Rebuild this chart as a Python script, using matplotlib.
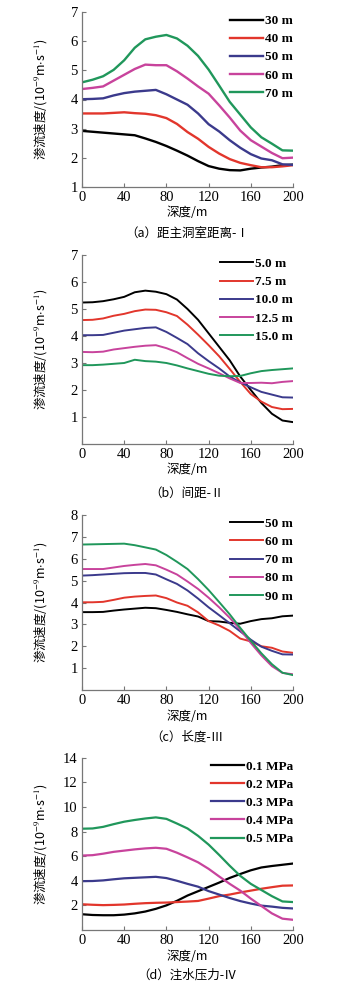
import matplotlib
matplotlib.use("Agg")
import matplotlib.pyplot as plt

plt.rcParams["font.family"] = ["Liberation Serif", "Noto Sans CJK SC"]
plt.rcParams["mathtext.fontset"] = "stix"

W, H = 352, 991  # размер картинки в пикселях

# Глубина, м (общая сетка для всех кривых)
depth = [0, 10, 20, 30, 40, 50, 60, 70, 80, 90, 100,
         110, 120, 130, 140, 150, 160, 170, 180, 190, 200]

# (a) расстояние до главной камеры
a_labels = ["30 m", "40 m", "50 m", "60 m", "70 m"]
a_30 = [2.92, 2.89, 2.86, 2.83, 2.80, 2.77, 2.66, 2.54, 2.40, 2.24, 2.07,
        1.88, 1.71, 1.62, 1.57, 1.56, 1.62, 1.66, 1.69, 1.74, 1.76]
a_40 = [3.52, 3.52, 3.52, 3.54, 3.56, 3.53, 3.51, 3.46, 3.36, 3.16, 2.88,
        2.65, 2.37, 2.14, 1.95, 1.82, 1.74, 1.67, 1.67, 1.70, 1.74]
a_50 = [4.01, 4.02, 4.04, 4.14, 4.22, 4.27, 4.30, 4.33, 4.18, 4.00, 3.82,
        3.52, 3.15, 2.90, 2.60, 2.34, 2.12, 1.97, 1.91, 1.77, 1.75]
a_60 = [4.36, 4.40, 4.45, 4.65, 4.85, 5.05, 5.20, 5.18, 5.18, 4.97, 4.72,
        4.45, 4.20, 3.80, 3.38, 2.93, 2.60, 2.38, 2.16, 1.98, 2.00]
a_70 = [4.59, 4.68, 4.80, 5.02, 5.35, 5.78, 6.07, 6.16, 6.22, 6.10, 5.85,
        5.50, 5.03, 4.48, 3.92, 3.48, 3.04, 2.70, 2.48, 2.25, 2.24]

# (b) шаг
b_labels = ["5.0 m", "7.5 m", "10.0 m", "12.5 m", "15.0 m"]
b_50 = [5.24, 5.25, 5.29, 5.36, 5.45, 5.62, 5.68, 5.64, 5.55, 5.35, 5.00,
        4.60, 4.10, 3.60, 3.10, 2.50, 2.00, 1.52, 1.12, 0.87, 0.81]
b_75 = [4.59, 4.60, 4.65, 4.75, 4.82, 4.92, 4.98, 4.97, 4.88, 4.74, 4.42,
        4.05, 3.66, 3.25, 2.78, 2.30, 1.85, 1.57, 1.37, 1.29, 1.30]
b_100 = [4.03, 4.03, 4.04, 4.12, 4.20, 4.25, 4.30, 4.32, 4.15, 3.93, 3.70,
         3.36, 3.07, 2.80, 2.50, 2.28, 2.10, 1.93, 1.83, 1.73, 1.72]
b_125 = [3.41, 3.40, 3.42, 3.50, 3.55, 3.60, 3.64, 3.66, 3.55, 3.40, 3.18,
         2.97, 2.80, 2.62, 2.43, 2.26, 2.26, 2.27, 2.25, 2.30, 2.33]
b_150 = [2.92, 2.92, 2.94, 2.97, 3.00, 3.12, 3.07, 3.05, 3.00, 2.91, 2.80,
         2.70, 2.60, 2.53, 2.51, 2.52, 2.62, 2.70, 2.74, 2.77, 2.80]

# (c) длина
c_labels = ["50 m", "60 m", "70 m", "80 m", "90 m"]
c_50 = [3.56, 3.56, 3.57, 3.63, 3.68, 3.72, 3.76, 3.74, 3.66, 3.57, 3.46,
        3.36, 3.15, 3.13, 3.07, 3.03, 3.15, 3.24, 3.28, 3.37, 3.40]
c_60 = [4.01, 4.01, 4.03, 4.12, 4.22, 4.27, 4.30, 4.32, 4.20, 4.00, 3.85,
        3.55, 3.15, 2.95, 2.70, 2.35, 2.22, 2.00, 1.93, 1.76, 1.70]
c_70 = [5.23, 5.25, 5.28, 5.31, 5.34, 5.35, 5.35, 5.28, 5.06, 4.85, 4.55,
        4.18, 3.78, 3.42, 3.05, 2.68, 2.30, 1.98, 1.79, 1.63, 1.62]
c_80 = [5.53, 5.53, 5.53, 5.60, 5.67, 5.72, 5.76, 5.70, 5.50, 5.28, 4.96,
        4.62, 4.22, 3.78, 3.30, 2.76, 2.15, 1.58, 1.09, 0.78, 0.72]
c_90 = [6.65, 6.66, 6.67, 6.68, 6.69, 6.62, 6.52, 6.42, 6.17, 5.86, 5.53,
        5.07, 4.57, 4.02, 3.46, 2.84, 2.25, 1.68, 1.18, 0.79, 0.68]

# (d) давление нагнетания
d_labels = ["0.1 MPa", "0.2 MPa", "0.3 MPa", "0.4 MPa", "0.5 MPa"]
d_01 = [1.28, 1.22, 1.20, 1.20, 1.25, 1.35, 1.50, 1.72, 2.00, 2.37, 2.80,
        3.15, 3.50, 3.85, 4.23, 4.55, 4.85, 5.08, 5.20, 5.30, 5.40]
d_02 = [2.09, 2.05, 2.02, 2.04, 2.07, 2.13, 2.18, 2.21, 2.23, 2.27, 2.31,
        2.36, 2.55, 2.75, 2.88, 3.05, 3.20, 3.35, 3.48, 3.60, 3.62]
d_03 = [3.97, 3.98, 4.03, 4.12, 4.20, 4.24, 4.28, 4.32, 4.22, 4.00, 3.75,
        3.52, 3.16, 2.88, 2.60, 2.35, 2.15, 1.98, 1.90, 1.80, 1.75]
d_04 = [6.05, 6.08, 6.20, 6.35, 6.45, 6.55, 6.63, 6.68, 6.60, 6.28, 5.90,
        5.50, 4.97, 4.35, 3.75, 3.20, 2.55, 1.95, 1.35, 0.92, 0.83]
d_05 = [8.23, 8.25, 8.38, 8.60, 8.80, 8.94, 9.06, 9.15, 9.03, 8.65, 8.25,
        7.65, 6.94, 6.10, 5.22, 4.40, 3.75, 3.25, 2.75, 2.32, 2.27]

colors = ["#000000", "#e2362c", "#3b3a8c", "#c8439c", "#20975b"]
xticks = [0, 40, 80, 120, 160, 200]

YLABEL = "渗流速度/(10$^{-9}$m$\\cdot$s$^{-1}$)"
XLABEL = "深度/m"
CJK = ["Noto Sans CJK SC", "DejaVu Sans"]

# (серии, подписи, ylim, yticks, пиксели осей l,t,r,b, подпись, y подписи, толщина)
panels = [
    ([a_30, a_40, a_50, a_60, a_70], a_labels, (1, 7), range(1, 8),
     (82, 12.3, 293, 186.7), "（a）距主洞室距离-Ⅰ", 233, 1.7),
    ([b_50, b_75, b_100, b_125, b_150], b_labels, (0, 7), range(1, 8),
     (82, 255, 293, 444), "（b）间距-Ⅱ", 493, 1.4),
    ([c_50, c_60, c_70, c_80, c_90], c_labels, (0, 8), range(1, 9),
     (82, 515, 293, 690), "（c）长度-Ⅲ", 737, 1.4),
    ([d_01, d_02, d_03, d_04, d_05], d_labels, (0, 14), range(2, 15, 2),
     (82, 757.7, 293, 930), "（d）注水压力-Ⅳ", 975, 1.6),
]

fig = plt.figure(figsize=(W / 100, H / 100), dpi=100)

for series, labels, ylim, yticks, (l, t, r, b), caption, cap_y, lw in panels:
    ax = fig.add_axes([l / W, 1 - b / H, (r - l) / W, (b - t) / H])
    for vals, lab, col in zip(series, labels, colors):
        ax.plot(depth, vals, color=col, lw=lw, label=lab)
    ax.set_xlim(0, 200)
    ax.set_ylim(*ylim)
    ax.set_xticks(xticks)
    ax.set_yticks(list(yticks))
    for side in ["top", "right"]:
        ax.spines[side].set_visible(False)
    for side in ["left", "bottom"]:
        ax.spines[side].set_color("#777777")
        ax.spines[side].set_linewidth(0.9)
    ax.tick_params(direction="in", length=3, width=0.8, color="#777777",
                   labelsize=10.5, pad=3)
    ax.set_ylabel(YLABEL, family=CJK, fontsize=9)
    ax.yaxis.set_label_coords(-0.15, 0.5)
    ax.legend(loc="upper right", bbox_to_anchor=(1.0, 0.985),
              frameon=False, handlelength=2.5, handletextpad=0.15,
              labelspacing=0.45, borderaxespad=0.0, borderpad=0.0,
              prop={"family": "Liberation Serif", "size": 9.5,
                    "weight": "bold"})
    # подписи оси X и самой панели
    fig.text(187 / W, 1 - (b + 26) / H, XLABEL, family=CJK, fontsize=9,
             ha="center", va="center")
    fig.text(187 / W, 1 - cap_y / H, caption, family=CJK, fontsize=9,
             ha="center", va="center")

fig.savefig("out.png", dpi=100)
